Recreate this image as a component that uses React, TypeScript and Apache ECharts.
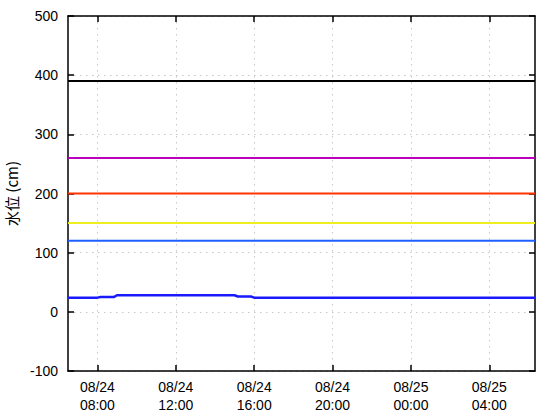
import React, { useEffect, useRef } from "react";
import * as echarts from "echarts";

// Time range of the chart (MM/DD HH:MM)
const xStart = "08/24 06:30";
const xEnd = "08/25 06:20";

// Tick positions on the time axis
const tickTimes = ["08/24 08:00", "08/24 12:00", "08/24 16:00", "08/24 20:00", "08/25 00:00", "08/25 04:00"];

// Water level (cm) observations
const levelTimes = [
  "08/24 06:30", "08/24 08:00", "08/24 08:10", "08/24 08:50", "08/24 09:00",
  "08/24 15:00", "08/24 15:10", "08/24 15:50", "08/24 16:00", "08/25 06:20",
];
const levelValues = [24, 24, 25, 25, 28, 28, 26, 26, 24, 24];

// Reference water levels (cm)
const refNames = ["計画高水位", "氾濫危険水位", "避難判断水位", "氾濫注意水位", "水防団待機水位"];
const refValues = [390, 260, 200, 150, 120];
const refColors = ["#000000", "#bb00bb", "#ff3300", "#eeee22", "#1f5fff"];

const yTicks = [-100, 0, 100, 200, 300, 400, 500];

function toHours(s: string): number {
  const [d, t] = s.split(" ");
  const day = parseInt(d.split("/")[1], 10);
  const [hh, mm] = t.split(":").map((v) => parseInt(v, 10));
  return (day - 24) * 24 + hh + mm / 60;
}

const pad = (n: number) => (n < 10 ? "0" + n : "" + n);
function dateLabel(v: number): string {
  return "08/" + pad(24 + Math.floor(v / 24));
}
function timeLabel(v: number): string {
  return pad(Math.round(v - Math.floor(v / 24) * 24)) + ":00";
}

const FONT = "'Noto Sans CJK JP', sans-serif";
const NUMFONT = "'Liberation Sans', sans-serif";

export default function App() {
  const ref = useRef<HTMLDivElement>(null);
  useEffect(() => {
    if (!ref.current) return;
    const chart = echarts.init(ref.current, undefined, { renderer: "svg" });
    const xMin = toHours(xStart);
    const xMax = toHours(xEnd);
    const ticks = tickTimes.map(toHours);

    const xCommon = {
      type: "value",
      min: xMin,
      max: xMax,
      axisLine: { show: true, onZero: false, lineStyle: { color: "#000", width: 1.5 } },
      axisTick: { show: true, inside: true, length: 6, customValues: ticks, lineStyle: { color: "#000", width: 1.5 } },
    };
    const yCommon = {
      type: "value",
      min: yTicks[0],
      max: yTicks[yTicks.length - 1],
      interval: 100,
      axisLine: { show: true, onZero: false, lineStyle: { color: "#000", width: 1.5 } },
      axisTick: { show: true, inside: true, length: 6, lineStyle: { color: "#000", width: 1.5 } },
    };
    const labelStyle = { color: "#000", fontFamily: NUMFONT, fontSize: 14 };

    const series: any[] = refValues.map((v, i) => ({
      name: refNames[i],
      type: "line",
      data: [[xMin, v], [xMax, v]],
      showSymbol: false,
      lineStyle: { color: refColors[i], width: 2 },
      z: 3,
    }));
    series.push({
      name: "水位",
      type: "line",
      data: levelTimes.map((t, i) => [toHours(t), levelValues[i]]),
      showSymbol: false,
      lineStyle: { color: "#1a1aff", width: 2.5 },
      z: 4,
    });

    chart.setOption({
      animation: false,
      backgroundColor: "#fff",
      grid: { left: 68, right: 25, top: 16, bottom: 49, containLabel: false, outerBoundsMode: "none" },
      xAxis: [
        {
          ...xCommon,
          position: "bottom",
          axisLabel: {
            ...labelStyle,
            show: true,
            customValues: ticks,
            formatter: (v: number) => dateLabel(v),
            margin: 9,
          },
          splitLine: { show: true, lineStyle: { color: "#c8c8c8", type: [1.5, 4.5], width: 1 } },
        },
        {
          ...xCommon,
          position: "top",
          axisLabel: { show: false },
          splitLine: { show: false },
        },
        {
          type: "value",
          min: xMin,
          max: xMax,
          position: "bottom",
          offset: 18,
          axisLine: { show: false },
          axisTick: { show: false },
          splitLine: { show: false },
          axisLabel: {
            ...labelStyle,
            show: true,
            customValues: ticks,
            formatter: (v: number) => timeLabel(v),
            margin: 9,
          },
        },
      ],
      yAxis: [
        {
          ...yCommon,
          position: "left",
          name: "水位 (cm)",
          nameLocation: "middle",
          nameGap: 43,
          nameTextStyle: { color: "#000", fontFamily: FONT, fontSize: 15 },
          axisLabel: { ...labelStyle, margin: 10 },
          splitLine: { show: true, lineStyle: { color: "#c8c8c8", type: [1.5, 4.5], width: 1 } },
        },
        {
          ...yCommon,
          position: "right",
          axisLabel: { show: false },
          splitLine: { show: false },
        },
      ],
      series,
    });
    return () => chart.dispose();
  }, []);
  return <div ref={ref} style={{ position: "absolute", left: 0, top: 0, width: 560, height: 420 }} />;
}
